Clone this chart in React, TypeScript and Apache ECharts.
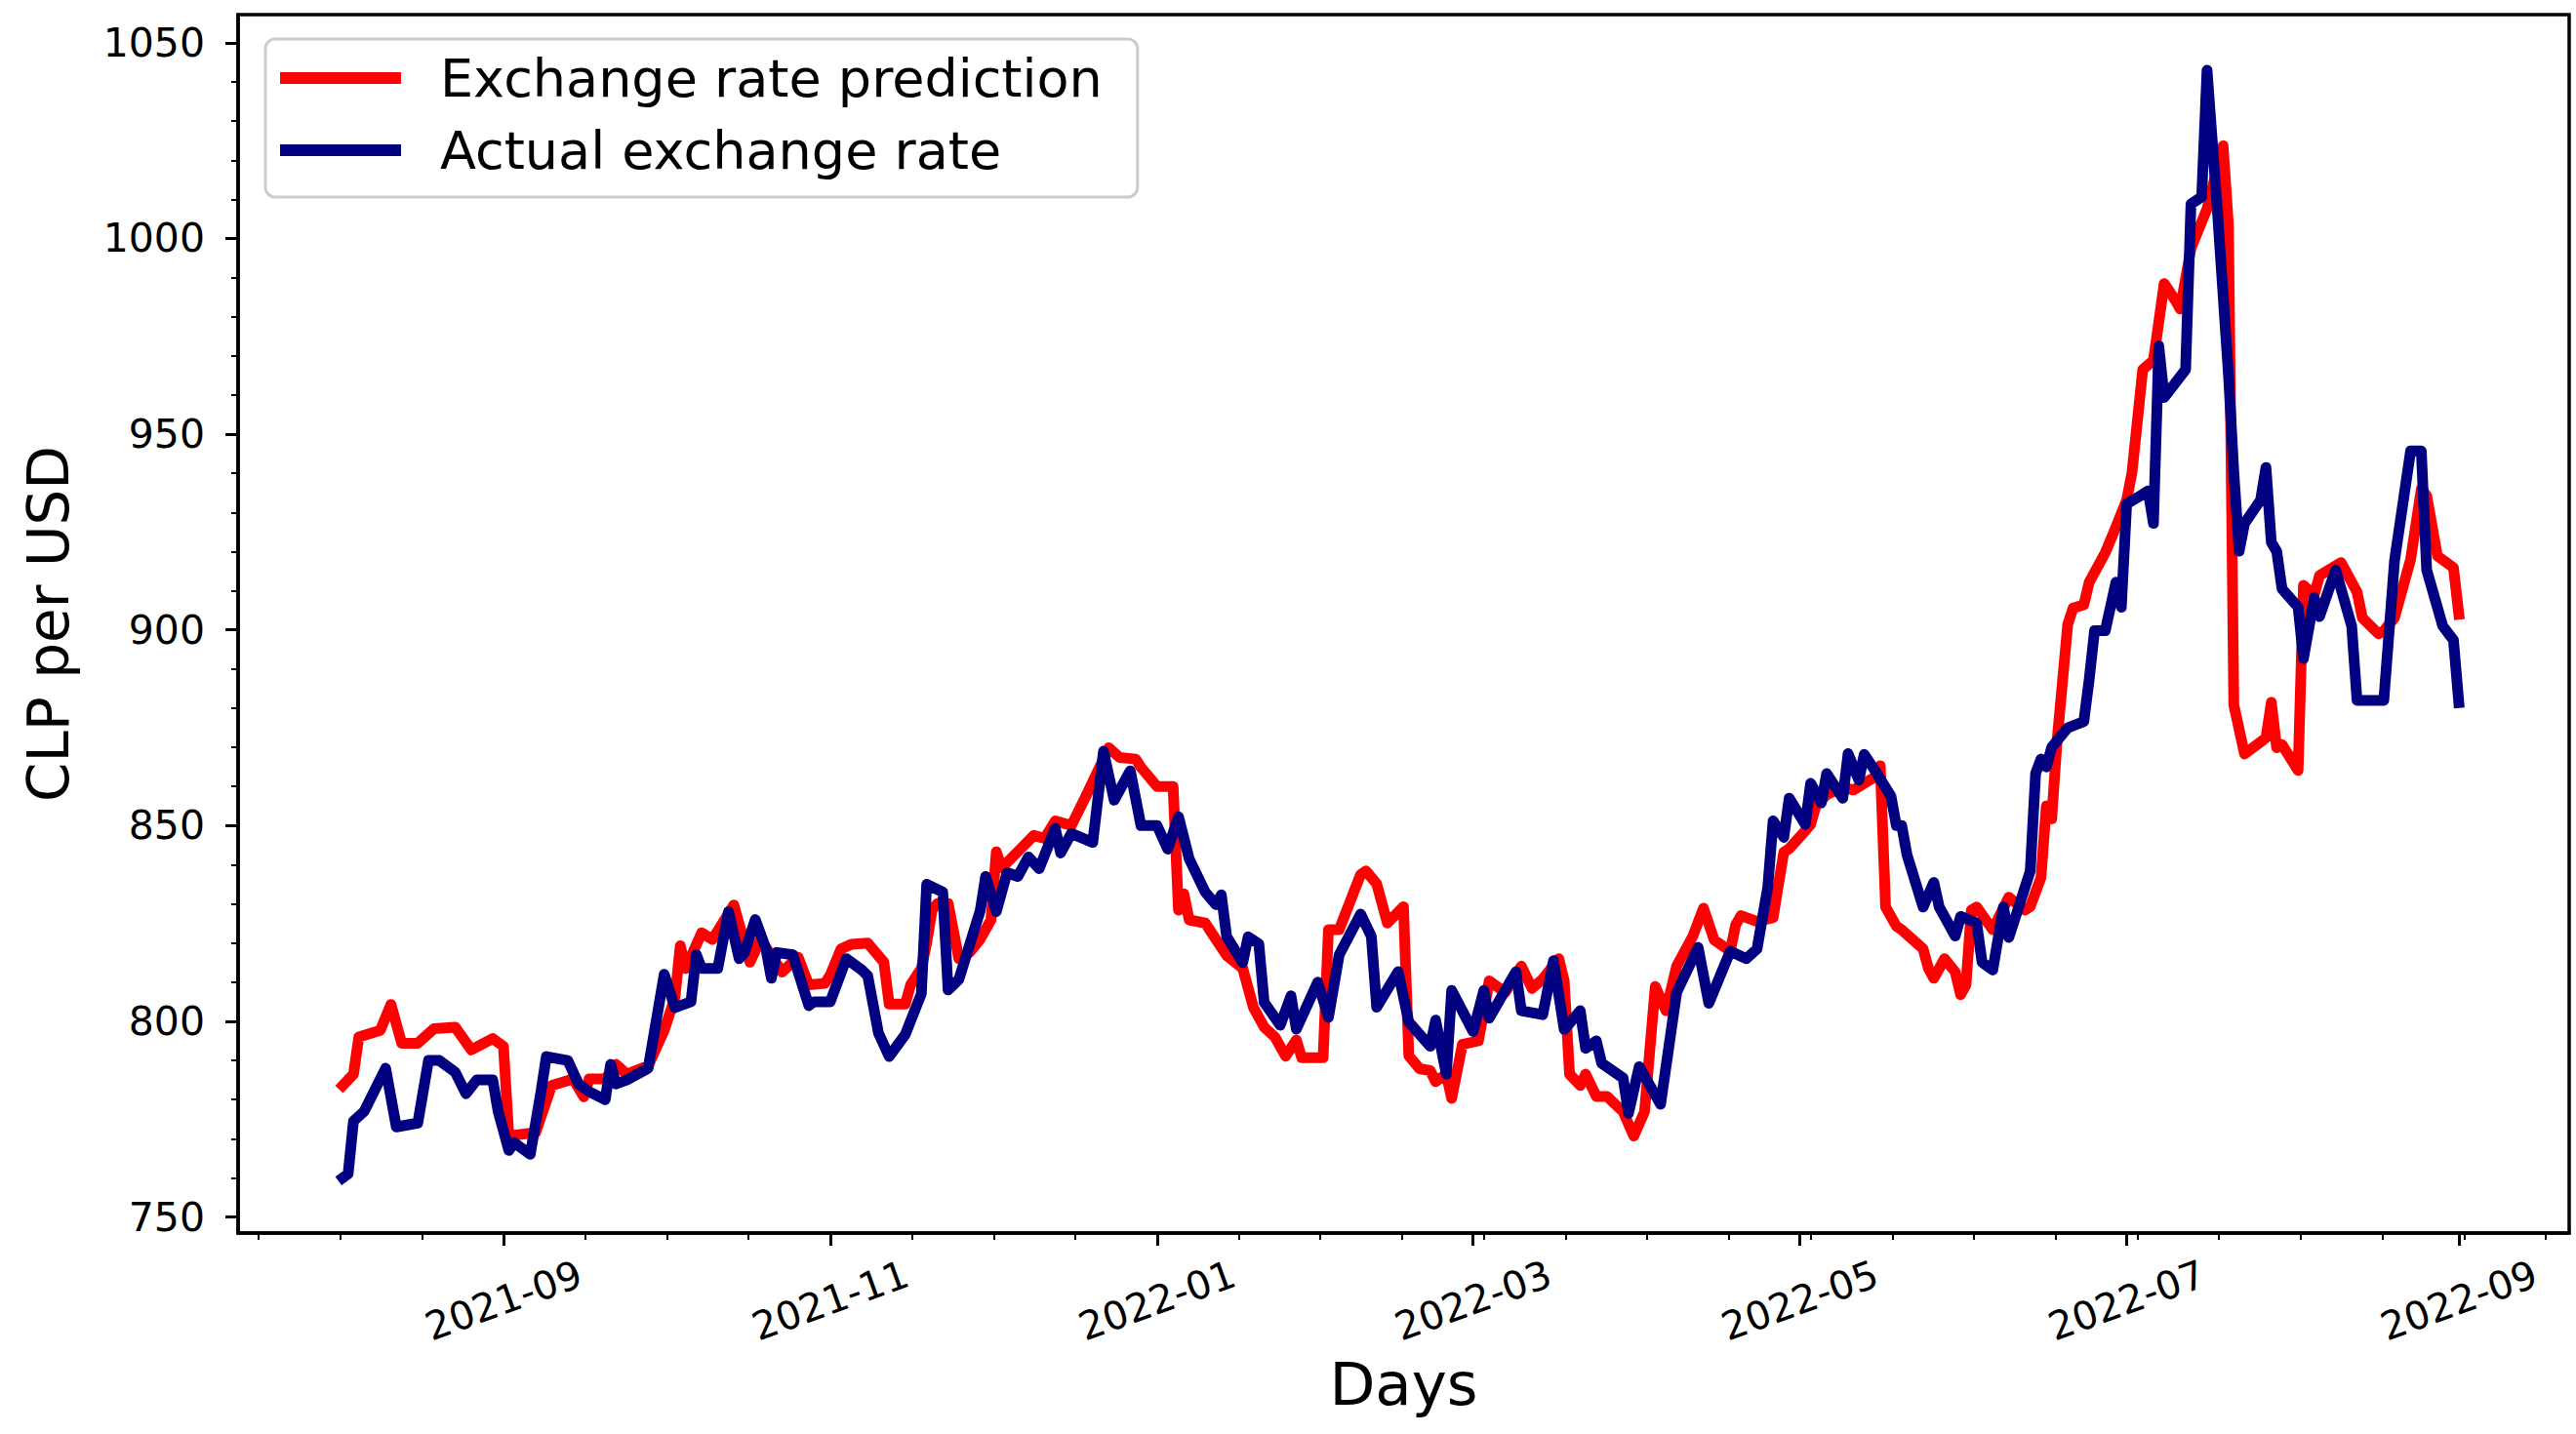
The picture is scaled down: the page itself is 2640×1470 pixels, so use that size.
import React, { useEffect, useRef } from "react";
import * as echarts from "echarts";

const actualDates = [
  "2021-08-02","2021-08-03","2021-08-04","2021-08-06","2021-08-10","2021-08-12","2021-08-16","2021-08-18","2021-08-20","2021-08-23",
  "2021-08-25","2021-08-27","2021-08-30","2021-08-31","2021-09-02","2021-09-03","2021-09-06","2021-09-08","2021-09-09","2021-09-13",
  "2021-09-15","2021-09-17","2021-09-20","2021-09-21","2021-09-22","2021-09-24","2021-09-28","2021-10-01","2021-10-03","2021-10-06",
  "2021-10-07","2021-10-08","2021-10-11","2021-10-13","2021-10-15","2021-10-16","2021-10-18","2021-10-20","2021-10-21","2021-10-22",
  "2021-10-25","2021-10-28","2021-10-29","2021-11-01","2021-11-04","2021-11-07","2021-11-08","2021-11-10","2021-11-12","2021-11-15",
  "2021-11-18","2021-11-19","2021-11-22","2021-11-23","2021-11-25","2021-11-29","2021-11-30","2021-12-02","2021-12-04","2021-12-06",
  "2021-12-08","2021-12-10","2021-12-13","2021-12-14","2021-12-16","2021-12-20","2021-12-22","2021-12-24","2021-12-27","2021-12-29",
  "2022-01-01","2022-01-03","2022-01-05","2022-01-07","2022-01-10","2022-01-12","2022-01-13","2022-01-14","2022-01-17","2022-01-18",
  "2022-01-20","2022-01-21","2022-01-24","2022-01-26","2022-01-27","2022-01-31","2022-02-02","2022-02-04","2022-02-08","2022-02-10",
  "2022-02-11","2022-02-15","2022-02-17","2022-02-21","2022-02-22","2022-02-24","2022-02-25","2022-03-01","2022-03-03","2022-03-04",
  "2022-03-09","2022-03-10","2022-03-14","2022-03-16","2022-03-18","2022-03-21","2022-03-22","2022-03-24","2022-03-25","2022-03-29",
  "2022-03-30","2022-04-01","2022-04-05","2022-04-08","2022-04-12","2022-04-14","2022-04-18","2022-04-21","2022-04-23","2022-04-25",
  "2022-04-26","2022-04-28","2022-04-29","2022-05-02","2022-05-03","2022-05-05","2022-05-06","2022-05-09","2022-05-10","2022-05-12",
  "2022-05-13","2022-05-15","2022-05-18","2022-05-19","2022-05-20","2022-05-21","2022-05-24","2022-05-26","2022-05-27","2022-05-30",
  "2022-05-31","2022-06-03","2022-06-04","2022-06-06","2022-06-08","2022-06-09","2022-06-13","2022-06-14","2022-06-15","2022-06-16",
  "2022-06-17","2022-06-20","2022-06-23","2022-06-24","2022-06-25","2022-06-27","2022-06-29","2022-06-30","2022-07-01","2022-07-03",
  "2022-07-05","2022-07-06","2022-07-07","2022-07-08","2022-07-12","2022-07-13","2022-07-15","2022-07-16","2022-07-18","2022-07-20",
  "2022-07-21","2022-07-22","2022-07-23","2022-07-26","2022-07-27","2022-07-28","2022-07-29","2022-07-30","2022-08-02","2022-08-03",
  "2022-08-05","2022-08-06","2022-08-09","2022-08-12","2022-08-13","2022-08-18","2022-08-20","2022-08-23","2022-08-25","2022-08-26",
  "2022-08-29","2022-08-31","2022-09-01"
];
const actualValues = [
  760, 761, 774.5, 777, 788, 773, 774, 790, 790, 787,
  781.5, 785, 785, 777, 767, 769, 766, 782, 791, 790,
  784, 782, 780, 789, 784, 785, 788, 812, 803.5, 805,
  817, 813.5, 813.5, 828, 816, 817.6, 826, 818.5, 811, 817.6,
  817, 804, 805, 805, 816, 813, 811.6, 797, 791, 796.6,
  807, 835, 833, 808, 810.7, 828.3, 837, 828, 838, 837,
  842, 839, 849.3, 843, 848, 845.7, 869, 856.5, 864, 850,
  850, 844, 852.3, 841.5, 833, 829.8, 832.3, 821.6, 815, 821.6,
  819.8, 804.8, 799, 806.5, 798, 810, 801, 817, 827.4, 821.7,
  803.6, 812.7, 799.8, 793.6, 800.3, 786.5, 807.9, 797.4, 807.9, 800.8,
  812.7, 802.7, 801.7, 815.5, 797.9, 802.7, 793.1, 795, 789.3, 785.5,
  776.5, 788.4, 778.8, 807.4, 818.9, 804.6, 817.9, 816, 818.5, 834.2,
  851.2, 847, 857, 850.3, 860.8, 855.8, 863.3, 857, 868.4, 861.6,
  868.2, 864.1, 857.5, 850, 850, 842.5, 829.2, 835.5, 829.2, 821.8,
  826.8, 825.1, 815.1, 813.1, 829.2, 821.4, 838.4, 863.3, 867, 865,
  870, 875, 876.6, 887.3, 899.8, 899.8, 912.2, 905.8, 932.2, 933.8,
  935.5, 927.2, 972.5, 959.4, 966.5, 1008.8, 1010.6, 1043, 1005.8, 965.3,
  940.3, 920.1, 927.2, 933.2, 941.5, 922.4, 920.1, 910.5, 905.8, 892.7,
  908.2, 903.4, 915.3, 901, 882, 882, 917.7, 945.7, 945.7, 915.3,
  901, 897.4, 881.4
];

const predictedDates = [
  "2021-08-02","2021-08-04","2021-08-05","2021-08-09","2021-08-11","2021-08-13","2021-08-16","2021-08-19","2021-08-23","2021-08-26",
  "2021-08-30","2021-09-01","2021-09-02","2021-09-07","2021-09-10","2021-09-14","2021-09-16","2021-09-17","2021-09-20","2021-09-22",
  "2021-09-24","2021-09-28","2021-10-01","2021-10-03","2021-10-04","2021-10-05","2021-10-08","2021-10-10","2021-10-14","2021-10-17",
  "2021-10-19","2021-10-23","2021-10-26","2021-10-28","2021-10-31","2021-11-01","2021-11-03","2021-11-05","2021-11-08","2021-11-11",
  "2021-11-12","2021-11-15","2021-11-16","2021-11-18","2021-11-19","2021-11-20","2021-11-21","2021-11-23","2021-11-25","2021-11-27",
  "2021-11-29","2021-12-01","2021-12-02","2021-12-03","2021-12-06","2021-12-09","2021-12-11","2021-12-13","2021-12-16","2021-12-19",
  "2021-12-23","2021-12-25","2021-12-28","2021-12-29","2022-01-01","2022-01-04","2022-01-05","2022-01-06","2022-01-07","2022-01-10",
  "2022-01-12","2022-01-14","2022-01-17","2022-01-19","2022-01-21","2022-01-23","2022-01-25","2022-01-27","2022-01-28","2022-02-01",
  "2022-02-02","2022-02-04","2022-02-08","2022-02-09","2022-02-11","2022-02-13","2022-02-16","2022-02-17","2022-02-19","2022-02-21",
  "2022-02-22","2022-02-24","2022-02-25","2022-02-27","2022-03-02","2022-03-03","2022-03-04","2022-03-07","2022-03-10","2022-03-12",
  "2022-03-14","2022-03-17","2022-03-18","2022-03-19","2022-03-21","2022-03-22","2022-03-24","2022-03-26","2022-03-29","2022-03-31",
  "2022-04-02","2022-04-04","2022-04-06","2022-04-08","2022-04-11","2022-04-13","2022-04-15","2022-04-18","2022-04-19","2022-04-20",
  "2022-04-23","2022-04-26","2022-04-27","2022-04-28","2022-04-29","2022-05-02","2022-05-03","2022-05-04","2022-05-06","2022-05-09",
  "2022-05-11","2022-05-13","2022-05-15","2022-05-16","2022-05-17","2022-05-19","2022-05-20","2022-05-24","2022-05-25","2022-05-26",
  "2022-05-28","2022-05-30","2022-05-31","2022-06-01","2022-06-02","2022-06-03","2022-06-06","2022-06-09","2022-06-12","2022-06-13",
  "2022-06-15","2022-06-16","2022-06-17","2022-06-18","2022-06-20","2022-06-21","2022-06-23","2022-06-24","2022-06-27","2022-06-29",
  "2022-07-01","2022-07-02","2022-07-04","2022-07-06","2022-07-08","2022-07-10","2022-07-11","2022-07-13","2022-07-16","2022-07-19",
  "2022-07-20","2022-07-21","2022-07-23","2022-07-27","2022-07-28","2022-07-29","2022-07-30","2022-08-02","2022-08-03","2022-08-05",
  "2022-08-06","2022-08-10","2022-08-11","2022-08-13","2022-08-14","2022-08-17","2022-08-18","2022-08-20","2022-08-23","2022-08-25",
  "2022-08-26","2022-08-28","2022-08-31","2022-09-01"
];
const predictedValues = [
  783.6, 786.5, 796, 797.7, 804.3, 794.4, 794.4, 798.1, 798.5, 792.7,
  795.6, 793.6, 770.7, 771.6, 783.6, 785.3, 780.7, 785.3, 785.3, 789,
  786.5, 788.6, 797.7, 806, 819.3, 813.5, 822.6, 820.9, 829.7, 815.1,
  821, 812.6, 816.4, 809.3, 809.7, 811.8, 818.5, 819.7, 820, 815.1,
  804.4, 804.4, 809.3, 813.5, 820.1, 828.4, 830.1, 830.1, 816, 817.6,
  821, 825.9, 843.3, 839.2, 843.3, 847.5, 846.7, 851.2, 850, 858.3,
  869.9, 867.4, 867, 864.9, 860, 860, 828.4, 832.6, 825.9, 825.1,
  820.9, 816.8, 813.5, 803.5, 798.5, 796, 791.1, 795.2, 790.7, 790.7,
  823.4, 823.4, 837.5, 838.4, 835.1, 825.1, 829.3, 791.2, 787.9, 787.4,
  784.6, 786.5, 780.3, 794.1, 795, 802.7, 810.3, 807.4, 814.1, 808.4,
  810.8, 816, 810.3, 786.5, 783.6, 786.5, 780.8, 780.8, 776.9, 770.7,
  776.9, 808.9, 802.7, 814.1, 821.7, 828.9, 820.8, 817.9, 824.6, 827,
  825.5, 826.5, 835, 843.2, 844.1, 848.7, 850.3, 855.1, 857.9, 859.8,
  859.1, 860.8, 862.4, 865.3, 829.2, 824.3, 823.4, 818.5, 813.5, 811,
  816, 812.6, 806.8, 809.3, 828.4, 829.2, 823.4, 831.7, 828.4, 829.3,
  836.7, 855, 851.7, 871.6, 901.4, 905.6, 906.4, 912.2, 919.7, 926.3,
  933.2, 940.3, 966.5, 968.9, 988.5, 984.4, 982, 997.5, 1007.6, 1023.7,
  1003.4, 880.8, 868.3, 872.4, 881.5, 869.9, 870.7, 864.1, 911.4, 908.9,
  913.9, 917.2, 914.7, 909.7, 903.1, 899, 899.8, 903.1, 918, 936,
  934.3, 918.9, 915.9, 904
];

const xTickDates = ["2021-09-01", "2021-11-01", "2022-01-01", "2022-03-01", "2022-05-01", "2022-07-01", "2022-09-01"];
const yTickValues = [750, 800, 850, 900, 950, 1000, 1050];

const FONT = "DejaVu Sans";
const DAY = 86400000;

export default function App() {
  const ref = useRef<HTMLDivElement>(null);

  useEffect(() => {
    if (!ref.current) return;
    const chart = echarts.init(ref.current, null, { renderer: "svg" });

    const ref0 = Date.UTC(2021, 8, 1);
    const xMin = ref0 - 49.54 * DAY;
    const xMax = ref0 + 385.6 * DAY;
    const yMin = 745.9;
    const yMax = 1057.2;

    const majorX = xTickDates.map((s) => Date.parse(s));
    const minorX: number[] = [];
    for (let k = -3; k <= 25; k++) {
      if (k === 0) continue;
      minorX.push(ref0 + k * 15.25 * DAY);
    }
    const minorY: number[] = [];
    for (let v = 750; v <= 1050; v += 10) {
      if (v % 50 !== 0) minorY.push(v);
    }

    const fmt = (v: number) => {
      const d = new Date(v);
      return d.getUTCFullYear() + "-" + String(d.getUTCMonth() + 1).padStart(2, "0");
    };

    const predData = predictedDates.map((s, i) => [Date.parse(s), predictedValues[i]]);
    const actData = actualDates.map((s, i) => [Date.parse(s), actualValues[i]]);

    const option: any = {
      animation: false,
      backgroundColor: "#ffffff",
      grid: {
        left: 244,
        top: 15,
        width: 2389,
        height: 1249,
        show: true,
        borderColor: "#000000",
        borderWidth: 3.5,
        backgroundColor: "transparent",
      },
      legend: {
        orient: "vertical",
        left: 272,
        top: 40,
        padding: [12, 36, 20, 15],
        itemWidth: 124,
        itemHeight: 12,
        itemGap: 18,
        icon: "rect",
        backgroundColor: "#ffffff",
        borderColor: "#cccccc",
        borderWidth: 3,
        borderRadius: 10,
        textStyle: {
          fontFamily: FONT,
          fontSize: 54,
          color: "#000000",
          lineHeight: 56,
          padding: [0, 0, 0, 35],
        },
        data: ["Exchange rate prediction", "Actual exchange rate"],
      },
      xAxis: [
        {
          type: "value",
          min: xMin,
          max: xMax,
          position: "bottom",
          name: "Days",
          nameLocation: "middle",
          nameGap: 124,
          nameTextStyle: { fontFamily: FONT, fontSize: 61, color: "#000000" },
          axisLine: { show: true, lineStyle: { color: "#000000", width: 3.5 } },
          axisTick: {
            show: true,
            customValues: majorX,
            length: 13,
            lineStyle: { color: "#000000", width: 3 },
          },
          axisLabel: {
            show: true,
            customValues: majorX,
            formatter: fmt,
            rotate: 20,
            align: "center",
            verticalAlign: "middle",
            margin: 69,
            fontFamily: FONT,
            fontSize: 40,
            color: "#000000",
          },
          splitLine: { show: false },
        },
        {
          type: "value",
          min: xMin,
          max: xMax,
          position: "bottom",
          axisLine: { show: false },
          axisTick: {
            show: true,
            customValues: minorX,
            length: 7,
            lineStyle: { color: "#000000", width: 2 },
          },
          axisLabel: { show: false },
          splitLine: { show: false },
        },
      ],
      yAxis: [
        {
          type: "value",
          min: yMin,
          max: yMax,
          position: "left",
          name: "CLP per USD",
          nameLocation: "middle",
          nameGap: 165,
          nameRotate: 90,
          nameTextStyle: { fontFamily: FONT, fontSize: 58, color: "#000000" },
          axisLine: { show: true, lineStyle: { color: "#000000", width: 3.5 } },
          axisTick: {
            show: true,
            customValues: yTickValues,
            length: 13,
            lineStyle: { color: "#000000", width: 3 },
          },
          axisLabel: {
            show: true,
            customValues: yTickValues,
            formatter: (v: number) => String(Math.round(v)),
            margin: 34,
            fontFamily: FONT,
            fontSize: 41,
            color: "#000000",
          },
          splitLine: { show: false },
        },
        {
          type: "value",
          min: yMin,
          max: yMax,
          position: "left",
          axisLine: { show: false },
          axisTick: {
            show: true,
            customValues: minorY,
            length: 7,
            lineStyle: { color: "#000000", width: 2 },
          },
          axisLabel: { show: false },
          splitLine: { show: false },
        },
      ],
      series: [
        {
          type: "line",
          name: "Exchange rate prediction",
          xAxisIndex: 0,
          yAxisIndex: 0,
          data: predData,
          showSymbol: false,
          symbol: "none",
          z: 2,
          itemStyle: { color: "#ff0000" },
          lineStyle: { color: "#ff0000", width: 11, cap: "square", join: "round" },
        },
        {
          type: "line",
          name: "Actual exchange rate",
          xAxisIndex: 0,
          yAxisIndex: 0,
          data: actData,
          showSymbol: false,
          symbol: "none",
          z: 3,
          itemStyle: { color: "#000080" },
          lineStyle: { color: "#000080", width: 11, cap: "square", join: "round" },
        },
      ],
    };

    chart.setOption(option);
    return () => chart.dispose();
  }, []);

  return (
    <div
      ref={ref}
      style={{ position: "fixed", left: 0, top: 0, width: 2640, height: 1470, background: "#ffffff" }}
    />
  );
}
